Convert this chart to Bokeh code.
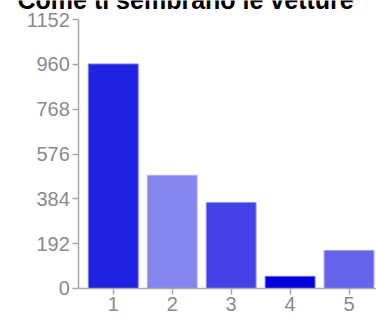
from bokeh.plotting import figure
from bokeh.models import ColumnDataSource, Range1d, FixedTicker, Label
from bokeh.embed import file_html
from bokeh.resources import INLINE

title_text = "Come ti sembrano le vetture"
categories = [1, 2, 3, 4, 5]
counts = [962, 485, 368, 52, 163]
colors = ["#2121E0", "#8585EE", "#4242E6", "#0000DD", "#6464EA"]
outline = ["#7D7DF0", "#B0B0F5", "#8E8EF2", "#6A6AEE", "#9C9CF3"]
y_ticks = [0, 192, 384, 576, 768, 960, 1152]

x_axis_at = 0.414
x_end = 5.466
src = ColumnDataSource(dict(x=categories, top=counts, color=colors, line=outline))

p = figure(width=376, height=316, output_backend="svg", toolbar_location=None,
           x_range=Range1d(-0.914, x_end), y_range=Range1d(-120, 1234),
           min_border_left=0, min_border_right=0, min_border_top=0, min_border_bottom=0)
p.outline_line_color = None
p.background_fill_color = "white"
p.border_fill_color = "white"
p.grid.visible = False

p.vbar(x="x", top="top", width=0.845, bottom=0, source=src,
       fill_color="color", line_color="line", line_width=1)

for ax in (p.xaxis[0], p.yaxis[0]):
    ax.axis_line_color = "#A8A8A8"
    ax.axis_line_width = 1.5
    ax.major_tick_line_color = "#A8A8A8"
    ax.major_tick_line_width = 1.5
    ax.major_tick_out = 6
    ax.major_tick_in = 0
    ax.minor_tick_line_color = None
    ax.major_label_text_color = "#8A8A8A"
    ax.major_label_text_font = "Liberation Sans"
    ax.major_label_text_font_size = "20px"
    ax.major_label_standoff = 3

p.yaxis.fixed_location = x_axis_at
p.xaxis.fixed_location = 0
p.yaxis.bounds = (y_ticks[0], y_ticks[-1])
p.xaxis.bounds = (x_axis_at, x_end)
p.xaxis.ticker = FixedTicker(ticks=categories)
p.yaxis.ticker = FixedTicker(ticks=y_ticks)

lab = Label(x=17, y=317, x_units="screen", y_units="screen", text=title_text,
            text_font="Liberation Sans", text_font_style="bold", text_font_size="25px",
            text_color="#000000", text_baseline="alphabetic", text_align="left")
p.add_layout(lab)

open("out.html", "w").write(file_html(p, INLINE))
